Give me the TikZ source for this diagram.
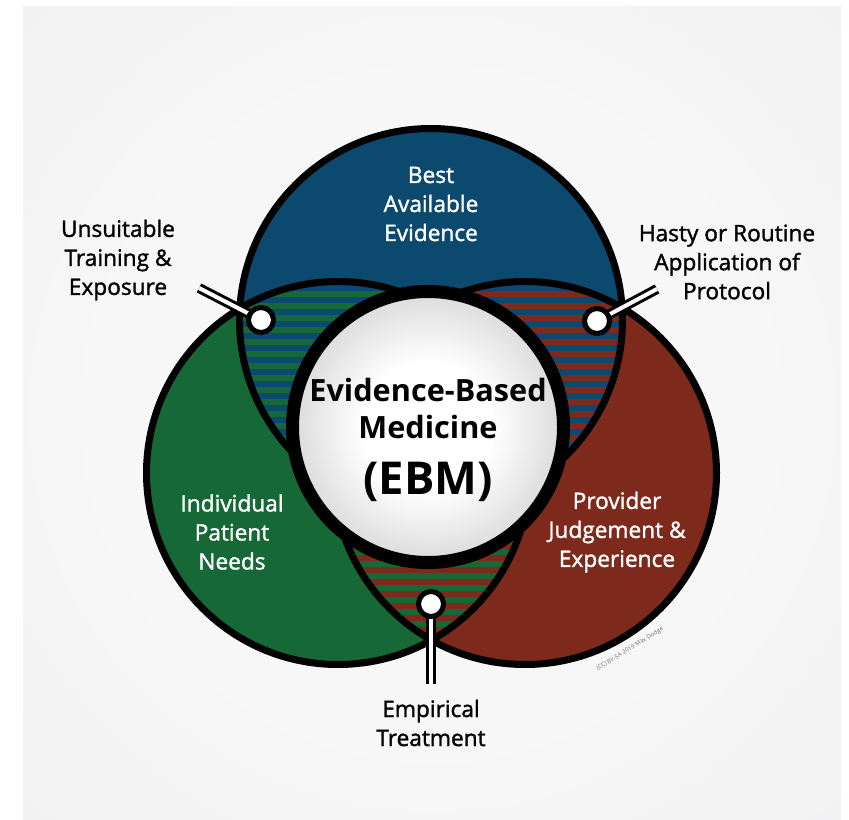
\documentclass[tikz,border=0pt]{standalone}
\usepackage{fontspec}
\setmainfont{Open Sans}
\newfontfamily\semifont[FakeBold=1.4]{Open Sans}
\definecolor{ebmblue}{RGB}{12,73,110}
\definecolor{ebmgreen}{RGB}{22,105,55}
\definecolor{ebmred}{RGB}{125,42,28}
\definecolor{ebmback}{RGB}{239,239,241}
\definecolor{ebmlight}{RGB}{247,247,247}
\pgfdeclareradialshading{ebmshade}{\pgfpoint{0bp}{0bp}}{color(0bp)=(white); color(12bp)=(white); color(25bp)=(black!14); color(50bp)=(black!14)}
\pgfdeclareradialshading{backshade}{\pgfpoint{0bp}{0bp}}{color(0bp)=(ebmlight); color(20bp)=(ebmlight); color(45bp)=(ebmback); color(50bp)=(ebmback)}

\begin{document}
\begin{tikzpicture}[x=0.75pt,y=0.75pt,
  venn/.style={draw=black,line width=5.25pt},
  dotmark/.style={circle,fill=white,draw=black,line width=3.75pt,minimum size=18.75pt,inner sep=0pt},
  lead/.style={draw=black,line width=7.5pt},
  leadcore/.style={draw=white,line width=3pt},
  inlbl/.style={font=\semifont\fontsize{17}{21.75}\selectfont,align=center,text=white,inner sep=0pt},
  outlbl/.style={inlbl,text=black}]
\useasboundingbox (0,0) rectangle (849,819);
\shade[shading=backshade] (23,0) rectangle (841,812);

\fill[ebmgreen] (338,346) circle (191.5);
\fill[ebmred] (525,346) circle (191.5);
\fill[ebmblue] (431,499) circle (191.5);

\begin{scope}
  \clip (338,346) circle (191.5);
  \clip (431,499) circle (191.5);
  \fill[ebmgreen] (0,0) rectangle (849,819);
  \foreach \y in {0,12,...,816}
    \fill[ebmblue] (0,\y) rectangle (849,\y+6);
\end{scope}
\begin{scope}
  \clip (525,346) circle (191.5);
  \clip (431,499) circle (191.5);
  \fill[ebmred] (0,0) rectangle (849,819);
  \foreach \y in {0,12,...,816}
    \fill[ebmblue] (0,\y) rectangle (849,\y+6);
\end{scope}
\begin{scope}
  \clip (338,346) circle (191.5);
  \clip (525,346) circle (191.5);
  \fill[ebmred] (0,0) rectangle (849,819);
  \foreach \y in {0,12,...,816}
    \fill[ebmgreen] (0,\y) rectangle (849,\y+6);
\end{scope}

\draw[venn] (338,346) circle (191.5);
\draw[venn] (525,346) circle (191.5);
\draw[venn] (431,499) circle (191.5);

\node[circle,draw=black,line width=9.75pt,shading=ebmshade,minimum size=203.25pt,inner sep=0pt] (ebm) at (428,392) {};
\node[font=\fontsize{23}{27.75}\selectfont\bfseries,align=center,inner sep=0pt] (ebmtxt) at (428,379)
  {Evidence-Based\\Medicine\\[14.25pt]{\fontsize{34}{27.75}\selectfont(EBM)}};

\coordinate (pL) at (261,499);
\coordinate (pR) at (597,498);
\coordinate (pB) at (431,215);
\coordinate (eL) at (199,531);
\coordinate (eR) at (657,530);
\coordinate (eB) at (431,135);
\draw[lead] (pL) -- (eL);
\draw[lead] (pR) -- (eR);
\draw[lead] (pB) -- (eB);
\draw[leadcore] (pL) -- (eL);
\draw[leadcore] (pR) -- (eR);
\draw[leadcore] (pB) -- (eB);
\node[dotmark] (mL) at (pL) {};
\node[dotmark] (mR) at (pR) {};
\node[dotmark] (mB) at (pB) {};

\node[inlbl] (best) at (431,615) {Best\\Available\\Evidence};
\node[inlbl] (indiv) at (232,287) {Individual\\Patient\\Needs};
\node[inlbl] (prov) at (617,287) {Provider\\Judgement \&\\Experience};
\node[outlbl] (unsuit) at (118,559) {Unsuitable\\Training \&\\Exposure};
\node[outlbl] (hasty) at (727,557) {Hasty or Routine\\Application of\\Protocol};
\node[outlbl] (empir) at (431,96) {Empirical\\Treatment};
\node[rotate=32,font=\fontsize{4.5}{5}\selectfont,text=black!55] (cc) at (630,170) {(CC) BY-SA 2019 Max Dodge};
\end{tikzpicture}
\end{document}
